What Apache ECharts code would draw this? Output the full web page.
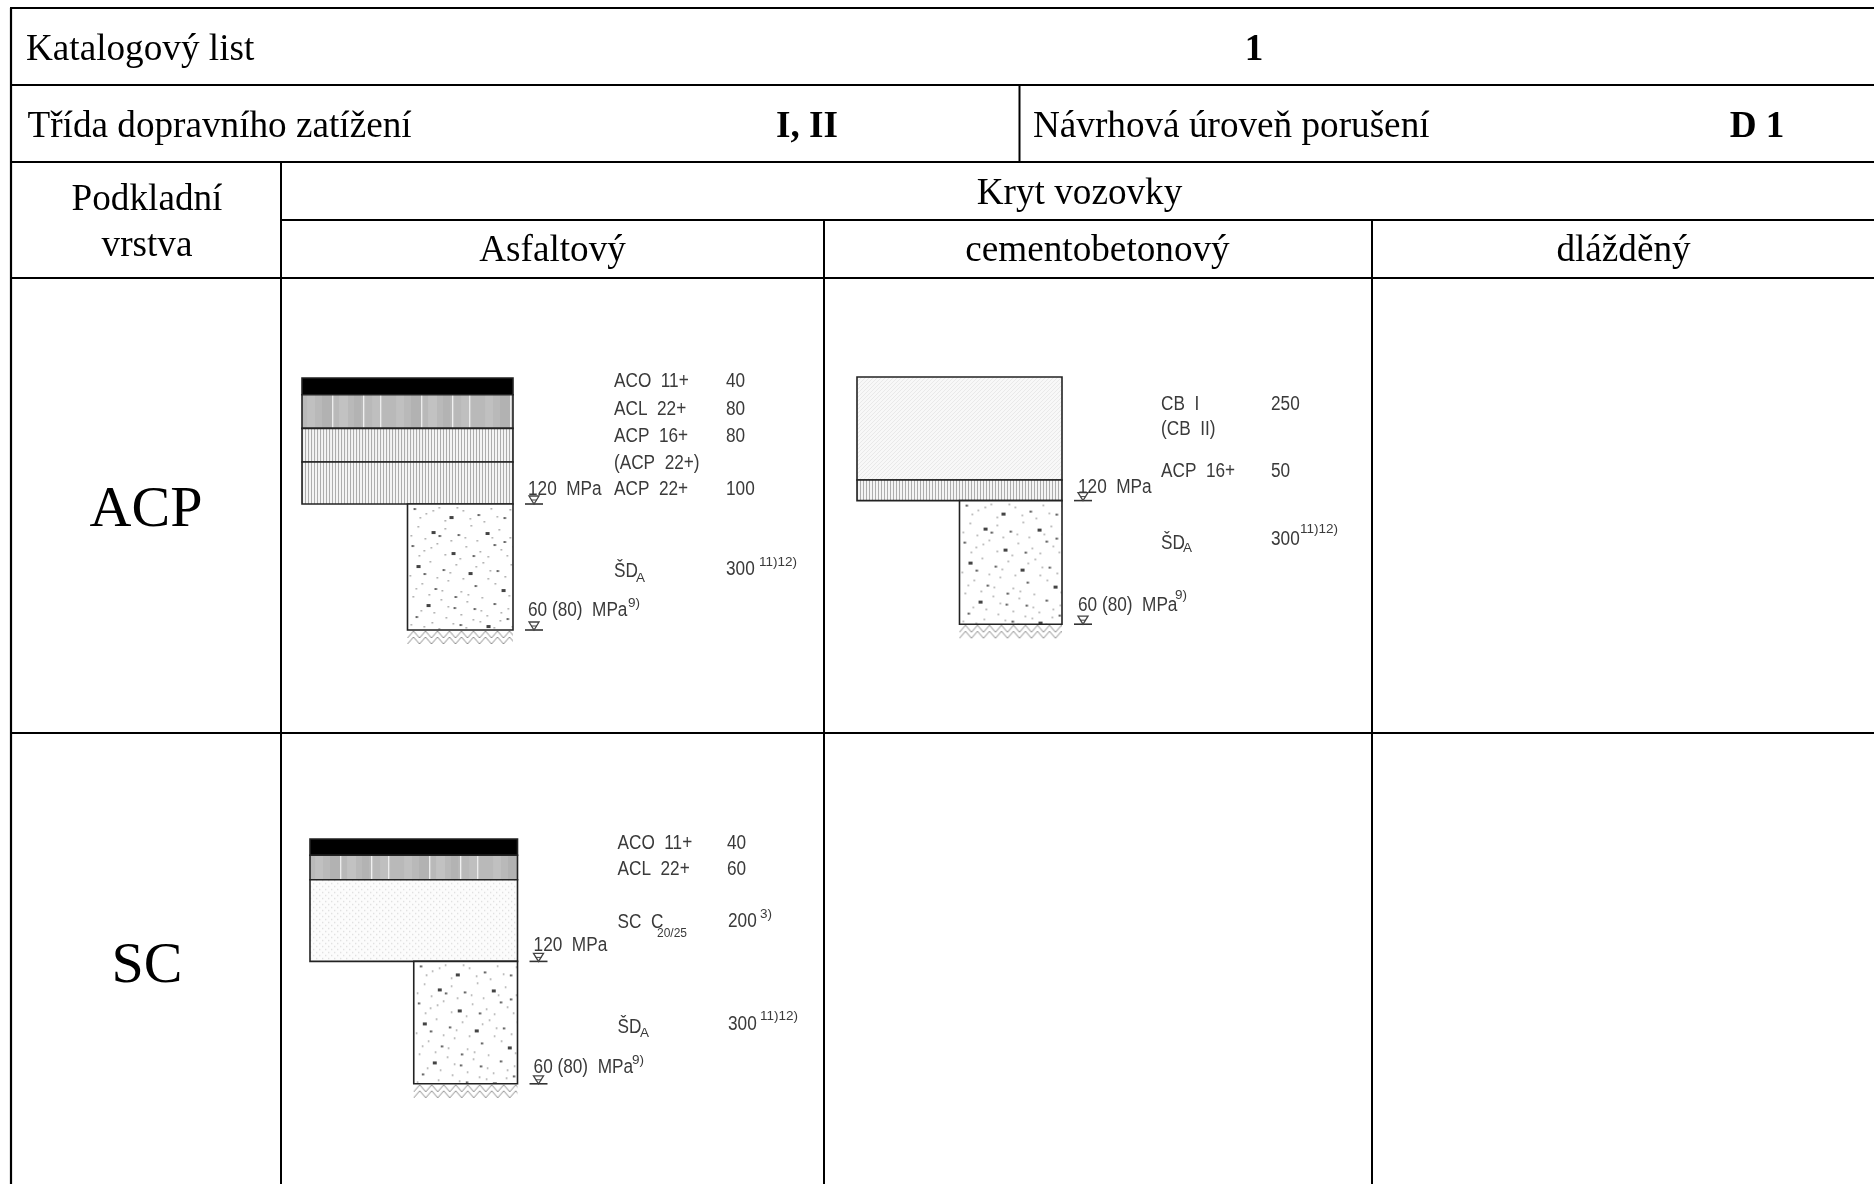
<!DOCTYPE html>
<html><head><meta charset="utf-8"><style>html,body{margin:0;padding:0;background:#fff}#c{width:1874px;height:1184px}</style>
<script src="https://cdn.jsdelivr.net/npm/echarts@6/dist/echarts.min.js"></script></head>
<body><div id="c"></div>
<script>
// ---- values ----
const tableCaption = 'Katalogový list';
const sheetNumber = '1';
const trafficLabel = 'Třída dopravního zatížení';
const trafficClass = 'I, II';
const damageLabel = 'Návrhová úroveň porušení';
const damageLevel = 'D 1';
const baseHeader = ['Podkladní', 'vrstva'];
const coverHeader = 'Kryt vozovky';
const coverTypes = ['Asfaltový', 'cementobetonový', 'dlážděný'];
const baseTypes = ['ACP', 'SC'];

const acpAsphaltMaterials = ['ACO 11+', 'ACL 22+', 'ACP 16+', 'ACP 22+', 'ŠD'];
const acpAsphaltThickness = [40, 80, 80, 100, 300];
const acpConcreteMaterials = ['CB I', 'ACP 16+', 'ŠD'];
const acpConcreteThickness = [250, 50, 300];
const scAsphaltMaterials = ['ACO 11+', 'ACL 22+', 'SC C', 'ŠD'];
const scAsphaltThickness = [40, 60, 200, 300];
const upperModulus = '120 MPa';
const lowerModulus = '60 (80)  MPa';

// ---- layout (page pixels) ----
const W = 1874, H = 1184;
const rules = [
  [10,8,W,8,2.2],[11,8,11,H,2.2],[10,85,W,85,2.2],[10,162,W,162,2.2],
  [1019.5,85,1019.5,162,2],[281,220,W,220,2.2],[281,162,281,H,2],
  [824,220,824,H,2],[1372,220,1372,H,2],[10,278,W,278,2.2],[10,733,W,733,2.2]
];
const serif = '"Liberation Serif"';
const cad = '"Liberation Sans"';
const T = 37.2;
const pageText = [
  {t:tableCaption,x:26,y:50.5,s:T,a:'left'},
  {t:sheetNumber,x:1254,y:50.5,s:T,a:'center',b:1},
  {t:trafficLabel,x:27.5,y:127,s:T,a:'left'},
  {t:trafficClass,x:807,y:127,s:T,a:'center',b:1},
  {t:damageLabel,x:1033,y:127,s:T,a:'left'},
  {t:damageLevel,x:1757,y:127,s:T,a:'center',b:1},
  {t:baseHeader[0],x:147,y:200.5,s:T,a:'center'},
  {t:baseHeader[1],x:147,y:246.5,s:T,a:'center'},
  {t:coverHeader,x:1079.5,y:194.5,s:T,a:'center'},
  {t:coverTypes[0],x:552.5,y:251.5,s:T,a:'center'},
  {t:coverTypes[1],x:1097.5,y:251.5,s:T,a:'center'},
  {t:coverTypes[2],x:1623.5,y:251.5,s:T,a:'center'},
  {t:baseTypes[0],x:146,y:511,s:58,a:'center'},
  {t:baseTypes[1],x:147,y:967,s:58,a:'center'}
];
const spaced = s => s.replace(' ', '  ');
const L = 20, S = 13.5;
const cadText = [
  // ACP + asphalt
  {t:spaced(acpAsphaltMaterials[0]),x:614,y:381},{t:String(acpAsphaltThickness[0]),x:726,y:381},
  {t:spaced(acpAsphaltMaterials[1]),x:614,y:409},{t:String(acpAsphaltThickness[1]),x:726,y:409},
  {t:spaced(acpAsphaltMaterials[2]),x:614,y:436},{t:String(acpAsphaltThickness[2]),x:726,y:436},
  {t:'('+spaced(acpAsphaltMaterials[3])+')',x:614,y:463},
  {t:spaced(acpAsphaltMaterials[3]),x:614,y:489},{t:String(acpAsphaltThickness[3]),x:726,y:489},
  {t:acpAsphaltMaterials[4],x:614,y:571},{t:'A',x:636,y:578,s:S},
  {t:String(acpAsphaltThickness[4]),x:726,y:569},{t:'11)12)',x:759,y:562,s:S},
  {t:spaced(upperModulus),x:528,y:489},
  {t:lowerModulus,x:528,y:610},{t:'9)',x:628,y:603,s:S},
  // ACP + concrete
  {t:spaced(acpConcreteMaterials[0]),x:1161,y:404},{t:String(acpConcreteThickness[0]),x:1271,y:404},
  {t:'(CB  II)',x:1161,y:429},
  {t:spaced(acpConcreteMaterials[1]),x:1161,y:471},{t:String(acpConcreteThickness[1]),x:1271,y:471},
  {t:acpConcreteMaterials[2],x:1161,y:543},{t:'A',x:1183,y:548,s:S},
  {t:String(acpConcreteThickness[2]),x:1271,y:539},{t:'11)12)',x:1300,y:529,s:S},
  {t:spaced(upperModulus),x:1078,y:487},
  {t:lowerModulus,x:1078,y:605},{t:'9)',x:1175,y:595,s:S},
  // SC + asphalt
  {t:spaced(scAsphaltMaterials[0]),x:617.5,y:843},{t:String(scAsphaltThickness[0]),x:727,y:843},
  {t:spaced(scAsphaltMaterials[1]),x:617.5,y:869},{t:String(scAsphaltThickness[1]),x:727,y:869},
  {t:spaced(scAsphaltMaterials[2]),x:617.5,y:922},{t:'20/25',x:657,y:934,s:12},
  {t:String(scAsphaltThickness[2]),x:728,y:921},{t:'3)',x:760,y:914,s:S},
  {t:scAsphaltMaterials[3],x:617.5,y:1027},{t:'A',x:640,y:1033,s:S},
  {t:String(scAsphaltThickness[3]),x:728,y:1024},{t:'11)12)',x:760,y:1016,s:S},
  {t:spaced(upperModulus),x:533.6,y:945},
  {t:lowerModulus,x:533.6,y:1067},{t:'9)',x:632,y:1060,s:S}
];

// ---- hatch tiles ----
function tile(w, h, draw) {
  const c = document.createElement('canvas'); c.width = w; c.height = h;
  draw(c.getContext('2d')); return c;
}
const aclTile = tile(89, 8, g => {
  g.fillStyle = '#b9b9b9'; g.fillRect(0,0,89,8);
  [[5,8,'#c0c0c0'],[20,10,'#b2b2b2'],[37,9,'#c2c2c2'],[52,7,'#b3b3b3'],[70,8,'#bfbfbf']].forEach(b => {g.fillStyle=b[2]; g.fillRect(b[0],0,b[1],8);});
  g.fillStyle = '#f0f0f0'; [30,61,78].forEach(x => g.fillRect(x,0,1.3,8));
});
const acpTile = tile(3, 4, g => {
  g.fillStyle = '#f4f4f4'; g.fillRect(0,0,3,4);
  g.fillStyle = '#adadad'; g.fillRect(0,0,1,4);
});
const cbTile = tile(4, 4, g => {
  g.fillStyle = '#f8f8f8'; g.fillRect(0,0,4,4);
  g.fillStyle = '#e9e9e9'; g.fillRect(0,0,1,1); g.fillRect(2,2,1,1); g.fillRect(1,3,1,1); g.fillRect(3,1,1,1);
});
const scTile = tile(6, 6, g => {
  g.fillStyle = '#fcfcfc'; g.fillRect(0,0,6,6);
  g.fillStyle = '#dddddd'; g.fillRect(0,0,1.3,1.3); g.fillRect(3,3,1.3,1.3);
});
const speckleDots = [[6,4,2],[18,9,1],[31,3,1],[42,12,3],[55,6,1],[70,10,2],[83,4,1],[96,13,2],
 [10,22,1],[24,27,3],[37,24,1],[50,30,2],[63,21,1],[78,28,3],[91,25,1],[102,33,1],
 [4,41,2],[16,46,1],[29,39,1],[44,48,3],[58,42,1],[72,47,1],[86,40,2],[99,51,1],
 [9,61,3],[22,57,1],[35,65,2],[48,60,1],[61,68,3],[75,58,1],[89,66,2],[103,60,1],
 [14,79,1],[27,84,2],[40,76,1],[53,87,1],[67,81,2],[80,74,1],[94,85,3],[5,92,1],
 [19,100,3],[33,95,1],[46,103,2],[59,97,1],[73,106,1],[86,99,2],[100,104,1],[8,112,2],
 [24,118,1],[38,113,1],[52,120,2],[65,115,1],[79,121,3],[92,116,1],[104,122,1],
 [12,13,1],[25,6,1],[37,16,1],[49,3,1],[62,14,1],[76,17,1],[89,12,1],[102,5,1],
 [3,31,1],[17,34,1],[31,31,2],[43,36,1],[57,33,1],[69,36,1],[84,33,1],[96,37,2],
 [11,51,1],[23,43,1],[37,50,1],[52,54,1],[65,51,2],[80,52,1],[93,45,1],[105,42,1],
 [2,71,1],[16,69,2],[29,73,1],[42,68,1],[55,74,1],[68,62,1],[82,66,1],[97,72,1],
 [8,84,1],[21,90,1],[34,86,1],[47,92,2],[60,90,1],[74,93,1],[87,79,1],[101,91,1],
 [13,106,1],[26,108,1],[40,102,1],[53,110,1],[66,104,2],[79,111,1],[93,108,1],[3,120,1],
 [16,122,1],[31,124,1],[45,119,1],[58,123,1],[72,117,1],[86,123,1],[99,114,2]];
const sdTile = tile(108, 126, g => {
  g.fillStyle = '#fff'; g.fillRect(0,0,108,126);
  speckleDots.forEach(d => {
    g.fillStyle = d[2] === 3 ? '#444' : d[2] === 2 ? '#666' : '#999';
    g.fillRect(d[0], d[1], d[2] === 3 ? 4 : d[2] === 2 ? 2.5 : 1.5, d[2] === 3 ? 3 : d[2] === 2 ? 2 : 1.5);
  });
});
const groundTile = tile(12, 15, g => {
  g.fillStyle = '#fff'; g.fillRect(0,0,12,15);
  g.strokeStyle = '#8c8c8c'; g.lineWidth = 1;
  g.beginPath();
  g.moveTo(0,8); g.lineTo(6,1); g.lineTo(12,8);
  g.moveTo(0,14); g.lineTo(6,7); g.lineTo(12,14);
  g.stroke();
});
const fillOf = {'ACL 22+':aclTile,'ACP 16+':acpTile,'ACP 22+':acpTile,'CB I':cbTile,'SC C':scTile,'ŠD':sdTile};

// ---- diagrams: each has its own depth axis in millimetres ----
const GROUND = 36, TOTAL = 600;
const diagrams = [
  {m:acpAsphaltMaterials, h:acpAsphaltThickness, left:302, right:513, top:378, scale:0.42},
  {m:acpConcreteMaterials, h:acpConcreteThickness, left:857, right:1062, top:377, scale:0.412},
  {m:scAsphaltMaterials, h:scAsphaltThickness, left:310, right:517.5, top:839, scale:0.408}
];
const grids = [{left:0,top:0,width:W,height:H}];
const xAxes = [{type:'value',gridIndex:0,min:0,max:W,show:false}];
const yAxes = [{type:'value',gridIndex:0,min:0,max:H,inverse:true,show:false}];
const series = [];

series.push({type:'custom',xAxisIndex:0,yAxisIndex:0,silent:true,z:5,data:rules,
  renderItem:(p,api)=>{const r=rules[p.dataIndex],a=api.coord([r[0],r[1]]),b=api.coord([r[2],r[3]]);
    return {type:'line',shape:{x1:a[0],y1:a[1],x2:b[0],y2:b[1]},style:{stroke:'#000',lineWidth:r[4]}};}});

diagrams.forEach((d,i)=>{
  const idx=i+1;
  grids.push({left:d.left,top:d.top,width:d.right-d.left,height:(TOTAL+GROUND)*d.scale});
  xAxes.push({type:'value',gridIndex:idx,min:0,max:2,show:false});
  yAxes.push({type:'value',gridIndex:idx,min:0,max:TOTAL+GROUND,inverse:true,show:false});
  let depth=0;
  const rows=d.m.map((name,k)=>{const row={name,from:depth,to:depth+d.h[k],narrow:k===d.m.length-1};depth+=d.h[k];return row;});
  const pavement=depth-d.h[d.h.length-1];
  series.push({type:'custom',xAxisIndex:idx,yAxisIndex:idx,silent:true,z:3,clip:false,data:rows.map(r=>r.to),
    renderItem:(p,api)=>{const r=rows[p.dataIndex];
      const a=api.coord([r.narrow?1:0,r.from]),b=api.coord([2,r.to]);
      const img=fillOf[r.name];
      return {type:'rect',shape:{x:a[0],y:a[1],width:b[0]-a[0],height:b[1]-a[1]},
        style:{fill:img?{image:img,repeat:'repeat',x:a[0],y:a[1]}:'#000',stroke:'#222',lineWidth:1.6}};}});
  series.push({type:'custom',xAxisIndex:idx,yAxisIndex:idx,silent:true,z:2,clip:false,data:[depth],
    renderItem:(p,api)=>{const a=api.coord([1,depth]),b=api.coord([2,depth+GROUND]);
      return {type:'rect',shape:{x:a[0],y:a[1],width:b[0]-a[0],height:b[1]-a[1]},
        style:{fill:{image:groundTile,repeat:'repeat',x:a[0],y:a[1]}}};}});
  const levels=[pavement,depth];
  series.push({type:'custom',xAxisIndex:idx,yAxisIndex:idx,silent:true,z:4,clip:false,data:levels,
    renderItem:(p,api)=>{const c=api.coord([2,levels[p.dataIndex]]);
      const x0=c[0]+12,x1=c[0]+30,xm=c[0]+21,y=c[1];
      return {type:'group',children:[
        {type:'line',shape:{x1:x0,y1:y,x2:x1,y2:y},style:{stroke:'#333',lineWidth:1.6}},
        {type:'polygon',shape:{points:[[xm-5,y-8],[xm+5,y-8],[xm,y]]},style:{fill:'#fff',stroke:'#444',lineWidth:1.3}},
        {type:'line',shape:{x1:xm-3,y1:y-4,x2:xm+3,y2:y-4},style:{stroke:'#444',lineWidth:1}}
      ]};}});
});

function textSeries(items,family,color,squeeze){
  return {type:'custom',xAxisIndex:0,yAxisIndex:0,silent:true,z:6,clip:false,data:items.map(it=>[it.x,it.y]),
    renderItem:(p,api)=>{const it=items[p.dataIndex],c=api.coord([api.value(0),api.value(1)]);
      return {type:'text',x:c[0],y:c[1],scaleX:it.s<L?1:squeeze,style:{text:it.t,x:0,y:0,fill:color,fontFamily:family,fontSize:it.size,
        fontWeight:it.b?'bold':'normal',align:it.a||'left',verticalAlign:'middle'}};}};
}
pageText.forEach(t=>t.size=t.s);
cadText.forEach(t=>{t.size=t.s||L;t.s=t.size;});
series.push(textSeries(pageText,serif,'#000',1));
series.push(textSeries(cadText,cad,'#3a3a3a',0.86));

const chart=echarts.init(document.getElementById('c'),null,{renderer:'canvas'});
chart.setOption({backgroundColor:'#fff',animation:false,grid:grids,xAxis:xAxes,yAxis:yAxes,series});
</script></body></html>
